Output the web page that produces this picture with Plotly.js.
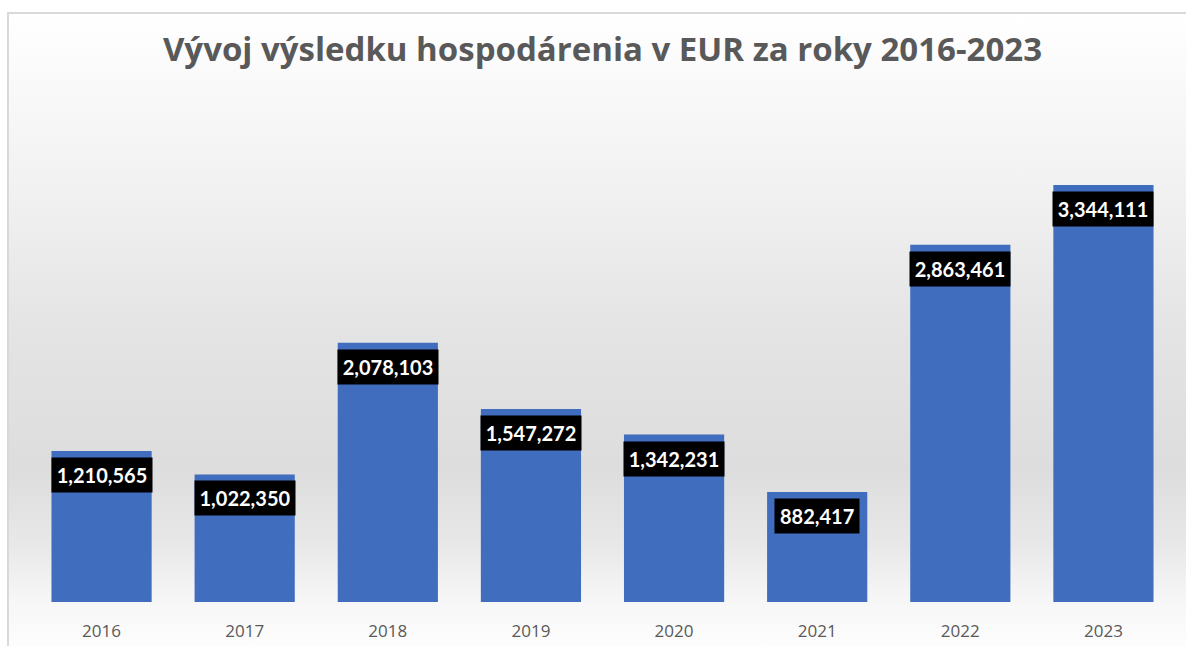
<!DOCTYPE html>
<html>
<head>
<meta charset="utf-8">
<script src="https://cdn.plot.ly/plotly-3.0.1.min.js"></script>
<style>
  html, body { margin: 0; padding: 0; background: #ffffff; }
  #frame {
    position: absolute; left: 7px; top: 12px; width: 1179px; height: 634px;
    border-top: 2px solid #d9d9d9; border-left: 2px solid #d9d9d9;
    box-sizing: border-box;
    background: linear-gradient(to bottom, #ffffff 0%, #fbfbfb 8%, #f1f1f1 28%, #e4e4e4 50%, #dddddd 72%, #e8e8e8 84%, #f7f7f7 93%, #fdfdfd 100%);
  }
  #chart { position: absolute; left: 0; top: 0; width: 1186px; height: 646px; }
</style>
</head>
<body>
<div id="frame"></div>
<div id="chart"></div>
<script>
const years = ['2016', '2017', '2018', '2019', '2020', '2021', '2022', '2023'];
const values = [1210565, 1022350, 2078103, 1547272, 1342231, 882417, 2863461, 3344111];
const titleText = 'Vývoj výsledku hospodárenia v EUR za roky 2016-2023';

const fmt = v => v.toLocaleString('en-US');

const trace = {
  type: 'bar',
  x: years,
  y: values,
  marker: { color: '#406dbd', line: { width: 0 } },
  hoverinfo: 'x+y'
};

const annotations = years.map((yr, i) => {
  const label = fmt(values[i]);
  const a = {
    x: i, y: values[i], xref: 'x', yref: 'y',
    text: '<b>' + label + '</b>',
    showarrow: false,
    yanchor: 'top', xanchor: 'center',
    yshift: -6,
    bgcolor: '#000000',
    borderpad: 5,
    font: { family: 'Lato, "Open Sans", sans-serif', size: 20, color: '#ffffff' }
  };
  if (label.length >= 9) { a.width = 90; }
  return a;
});

const layout = {
  width: 1186, height: 646,
  paper_bgcolor: 'rgba(0,0,0,0)',
  plot_bgcolor: 'rgba(0,0,0,0)',
  margin: { l: 30, r: 11, t: 153, b: 44 },
  bargap: 0.3,
  showlegend: false,
  title: {
    text: '<b>' + titleText + '</b>',
    x: 0.508, xanchor: 'center', xref: 'container',
    y: 0.923, yanchor: 'middle', yref: 'container',
    font: { family: '"Open Sans", sans-serif', size: 33, color: '#595959' }
  },
  xaxis: {
    type: 'category',
    range: [-0.5, years.length - 0.5],
    showgrid: false, zeroline: false, showline: false,
    ticks: '', ticklabelstandoff: 17,
    tickfont: { family: '"Open Sans", sans-serif', size: 17, color: '#595959' }
  },
  yaxis: {
    range: [0, 3600000],
    visible: false, showgrid: false, zeroline: false
  },
  annotations: annotations
};

Plotly.newPlot('chart', [trace], layout, { displayModeBar: false, staticPlot: true });
</script>
</body>
</html>
